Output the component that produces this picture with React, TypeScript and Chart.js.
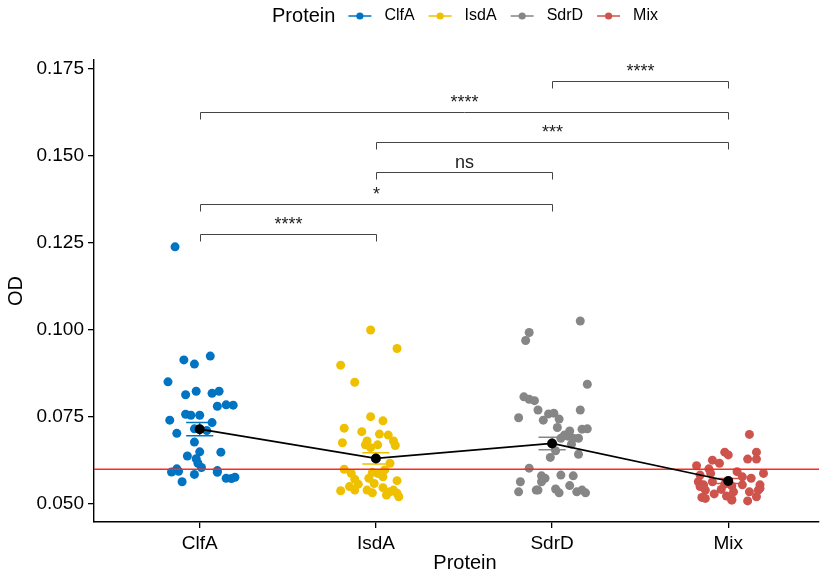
import React, { useEffect, useRef } from "react";
import { Chart, registerables } from "chart.js";

Chart.register(...registerables);

const categories = ["ClfA", "IsdA", "SdrD", "Mix"];
const groupColors = ["#0073C2", "#EFC000", "#868686", "#CD534C"];

// OD values and horizontal jitter (category units) per group
const clfaOD = [0.1239, 0.0914, 0.0902, 0.0925, 0.0851, 0.0814, 0.0824, 0.0818, 0.0824, 0.0781, 0.0785, 0.0784, 0.0758, 0.0755, 0.0755, 0.0741, 0.0734, 0.0703, 0.0716, 0.0711, 0.0678, 0.065, 0.0649, 0.0638, 0.063, 0.0617, 0.0605, 0.0601, 0.0592, 0.0594, 0.0596, 0.0591, 0.0585, 0.0564, 0.0574, 0.0573, 0.0577];
const clfaJitter = [-0.14, -0.09, -0.03, 0.06, -0.18, -0.08, -0.02, 0.07, 0.11, 0.1, 0.15, 0.19, -0.08, -0.05, 0.0, -0.17, 0.07, -0.13, -0.03, 0.04, -0.03, 0.0, 0.12, -0.07, -0.02, -0.01, 0.01, -0.13, -0.16, -0.12, 0.1, 0.1, -0.03, -0.1, 0.15, 0.18, 0.2];

const isdaOD = [0.1, 0.0947, 0.0899, 0.085, 0.0751, 0.0739, 0.0718, 0.0708, 0.0701, 0.0698, 0.0676, 0.0681, 0.067, 0.0662, 0.067, 0.0681, 0.0668, 0.0617, 0.06, 0.0588, 0.0591, 0.0588, 0.0598, 0.0571, 0.0574, 0.0578, 0.0557, 0.0559, 0.0567, 0.055, 0.054, 0.0547, 0.0538, 0.0535, 0.0531, 0.054, 0.0532, 0.0521, 0.0526, 0.054];
const isdaJitter = [-0.03, 0.12, -0.2, -0.12, -0.03, 0.04, -0.18, -0.08, 0.02, 0.07, -0.19, -0.05, -0.06, -0.03, 0.01, 0.1, 0.11, 0.08, -0.18, -0.14, -0.02, 0.01, 0.05, -0.12, -0.04, 0.04, -0.1, -0.01, 0.12, -0.15, -0.05, 0.04, -0.2, 0.08, 0.12, -0.12, -0.02, 0.13, 0.06, 0.1];

const sdrdOD = [0.1026, 0.0993, 0.097, 0.0844, 0.0808, 0.0801, 0.0797, 0.077, 0.077, 0.0748, 0.0759, 0.0761, 0.0741, 0.0744, 0.072, 0.0715, 0.0716, 0.071, 0.0698, 0.0695, 0.0689, 0.0689, 0.0689, 0.0672, 0.0653, 0.0643, 0.0634, 0.0603, 0.0583, 0.0581, 0.0581, 0.0574, 0.0564, 0.0564, 0.0553, 0.054, 0.0535, 0.0543, 0.0532, 0.0535, 0.054, 0.0532, 0.054];
const sdrdJitter = [0.16, -0.13, -0.15, 0.2, -0.16, -0.13, -0.1, -0.08, 0.16, -0.19, -0.02, 0.01, -0.05, 0.04, 0.03, 0.17, 0.2, 0.1, 0.07, 0.09, 0.05, 0.12, 0.15, 0.11, 0.02, 0.15, -0.01, -0.13, 0.05, 0.12, -0.06, -0.04, -0.18, -0.06, 0.1, -0.08, -0.19, 0.02, 0.04, 0.14, 0.17, 0.19, -0.09];

const mixOD = [0.07, 0.0649, 0.0641, 0.0649, 0.0629, 0.0629, 0.0626, 0.0617, 0.061, 0.0601, 0.0593, 0.0588, 0.0583, 0.0588, 0.0578, 0.0574, 0.0564, 0.0555, 0.0564, 0.0557, 0.0552, 0.0555, 0.0542, 0.0535, 0.054, 0.054, 0.0535, 0.0529, 0.0523, 0.0519, 0.0516, 0.0513, 0.0509, 0.0521, 0.0545, 0.055, 0.0555, 0.0511];
const mixJitter = [0.12, -0.02, 0.0, 0.16, 0.16, 0.11, -0.09, -0.05, -0.18, -0.11, 0.05, 0.2, -0.16, -0.1, 0.08, 0.13, -0.17, -0.14, -0.09, -0.02, 0.02, 0.18, -0.04, 0.03, -0.13, 0.17, 0.12, -0.08, -0.01, -0.15, -0.13, 0.02, 0.11, 0.16, 0.18, -0.16, 0.08, 0.02];

const groupMeans = [0.0715, 0.0631, 0.0674, 0.0566];
const groupSE = [0.0019, 0.0016, 0.0018, 0.0007];

const yTicks = [0.05, 0.075, 0.1, 0.125, 0.15, 0.175];
const thresholdOD = 0.06;

const bracketPairs = [[3, 4], [1, 4], [2, 4], [2, 3], [1, 3], [1, 2]];
const bracketOD = [0.1716, 0.1626, 0.154, 0.1454, 0.1362, 0.1276];
const bracketLabels = ["****", "****", "***", "ns", "*", "****"];

const FONT = "'Liberation Sans', Arial, Helvetica, sans-serif";

const groupOD = [clfaOD, isdaOD, sdrdOD, mixOD];
const groupJitter = [clfaJitter, isdaJitter, sdrdJitter, mixJitter];

const overlayPlugin = {
  id: "overlay",
  beforeDatasetDraw(chart: any, args: any) {
    if (args.index !== 4) return;
    const { ctx, chartArea, scales } = chart;
    const x = scales.x;
    const y = scales.y;
    ctx.save();
    const yy = y.getPixelForValue(thresholdOD);
    ctx.strokeStyle = "#FF2A1F";
    ctx.lineWidth = 1.5;
    ctx.beginPath();
    ctx.moveTo(chartArea.left, yy);
    ctx.lineTo(chartArea.right, yy);
    ctx.stroke();
    groupMeans.forEach((m, i) => {
      const cx = x.getPixelForValue(i + 1);
      const hw = x.getPixelForValue(i + 1 + 0.077) - cx;
      const top = y.getPixelForValue(m + groupSE[i]);
      const bot = y.getPixelForValue(m - groupSE[i]);
      ctx.strokeStyle = groupColors[i];
      ctx.lineWidth = 1.5;
      ctx.beginPath();
      ctx.moveTo(cx - hw, top);
      ctx.lineTo(cx + hw, top);
      ctx.moveTo(cx, top);
      ctx.lineTo(cx, bot);
      ctx.moveTo(cx - hw, bot);
      ctx.lineTo(cx + hw, bot);
      ctx.stroke();
    });
    ctx.restore();
  },
  afterDraw(chart: any) {
    const { ctx, chartArea, scales } = chart;
    const x = scales.x;
    const y = scales.y;
    ctx.save();
    ctx.strokeStyle = "#444";
    ctx.lineWidth = 1;
    ctx.fillStyle = "#222";
    ctx.font = `18px ${FONT}`;
    ctx.textAlign = "center";
    ctx.textBaseline = "alphabetic";
    bracketPairs.forEach((p, i) => {
      const x1 = Math.round(x.getPixelForValue(p[0])) + 0.5;
      const x2 = Math.round(x.getPixelForValue(p[1])) + 0.5;
      const yy = Math.round(y.getPixelForValue(bracketOD[i])) + 0.5;
      ctx.beginPath();
      ctx.moveTo(x1, yy + 7);
      ctx.lineTo(x1, yy);
      ctx.lineTo(x2, yy);
      ctx.lineTo(x2, yy + 7);
      ctx.stroke();
      ctx.fillText(bracketLabels[i], (x1 + x2) / 2, yy - 5);
    });
    const midX = 465;
    ctx.fillStyle = "#000";
    ctx.font = `20px ${FONT}`;
    ctx.textBaseline = "middle";
    ctx.fillText("Protein", midX, 563);
    ctx.save();
    ctx.translate(16, (chartArea.top + chartArea.bottom) / 2);
    ctx.rotate(-Math.PI / 2);
    ctx.fillText("OD", 0, 0);
    ctx.restore();
    const ly = 16;
    ctx.font = `20px ${FONT}`;
    const titleW = ctx.measureText("Protein").width;
    ctx.font = `16px ${FONT}`;
    const itemWs = categories.map((c) => ctx.measureText(c).width);
    const markerW = 23;
    const textOff = 36;
    const gap = 14;
    const titleGap = 13;
    let total = titleW + titleGap;
    itemWs.forEach((w, i) => {
      total += textOff + w + (i < itemWs.length - 1 ? gap : 0);
    });
    let cx = midX - total / 2;
    ctx.textAlign = "left";
    ctx.font = `20px ${FONT}`;
    ctx.fillText("Protein", cx, ly);
    cx += titleW + titleGap;
    ctx.font = `16px ${FONT}`;
    categories.forEach((c, i) => {
      ctx.strokeStyle = groupColors[i];
      ctx.fillStyle = groupColors[i];
      ctx.lineWidth = 1.5;
      ctx.beginPath();
      ctx.moveTo(cx, ly);
      ctx.lineTo(cx + markerW, ly);
      ctx.stroke();
      ctx.beginPath();
      ctx.arc(cx + markerW / 2, ly, 3.6, 0, Math.PI * 2);
      ctx.fill();
      ctx.fillStyle = "#000";
      ctx.fillText(c, cx + textOff, ly);
      cx += textOff + itemWs[i] + gap;
    });
    ctx.restore();
  },
};

export default function App() {
  const canvasRef = useRef<HTMLCanvasElement | null>(null);

  useEffect(() => {
    const canvas = canvasRef.current;
    if (!canvas) return;
    const pointSets = groupOD.map((vals, g) => ({
      type: "scatter" as const,
      label: categories[g],
      data: vals.map((v, i) => ({ x: g + 1 + groupJitter[g][i], y: v })),
      backgroundColor: groupColors[g],
      borderWidth: 0,
      pointRadius: 4.5,
      pointHoverRadius: 4.5,
      order: 2,
    }));
    const meanSet = {
      type: "line" as const,
      label: "mean",
      data: groupMeans.map((m, i) => ({ x: i + 1, y: m })),
      borderColor: "#000",
      borderWidth: 1.7,
      backgroundColor: "#000",
      pointRadius: 5,
      pointBackgroundColor: "#000",
      pointBorderWidth: 0,
      tension: 0,
      order: 0,
    };
    const chart = new Chart(canvas, {
      type: "scatter",
      data: { datasets: [...pointSets, meanSet] as any },
      options: {
        animation: false,
        responsive: false,
        devicePixelRatio: 1,
        events: [],
        layout: { padding: { top: 60, right: 4, left: 0, bottom: 0 } },
        plugins: { legend: { display: false }, tooltip: { enabled: false } },
        scales: {
          x: {
            type: "linear",
            min: 0.4,
            max: 4.515,
            afterBuildTicks: (scale: any) => {
              scale.ticks = categories.map((_, i) => ({ value: i + 1 }));
            },
            afterFit: (scale: any) => {
              scale.height = 51;
            },
            ticks: {
              autoSkip: false,
              maxRotation: 0,
              padding: 4,
              color: "#000",
              font: { family: FONT, size: 19 },
              callback: (v: any) => categories[Math.round(v) - 1] ?? "",
            },
            grid: { display: true, drawOnChartArea: false, drawTicks: true, tickLength: 6, color: "#000", lineWidth: 1.3 },
            border: { display: true, color: "#000", width: 1.4 },
          },
          y: {
            type: "linear",
            min: 0.04483,
            max: 0.17759,
            afterBuildTicks: (scale: any) => {
              scale.ticks = yTicks.map((v) => ({ value: v }));
            },
            afterFit: (scale: any) => {
              scale.width = 94;
            },
            ticks: {
              padding: 4,
              color: "#000",
              font: { family: FONT, size: 19 },
              callback: (v: any) => Number(v).toFixed(3),
            },
            grid: { display: true, drawOnChartArea: false, drawTicks: true, tickLength: 6, color: "#000", lineWidth: 1.3 },
            border: { display: true, color: "#000", width: 1.4 },
          },
        },
      },
      plugins: [overlayPlugin],
    });
    return () => chart.destroy();
  }, []);

  return (
    <div style={{ position: "fixed", left: 0, top: 0, width: 824, height: 573, background: "#fff" }}>
      <canvas ref={canvasRef} width={824} height={573} style={{ display: "block" }} />
    </div>
  );
}
